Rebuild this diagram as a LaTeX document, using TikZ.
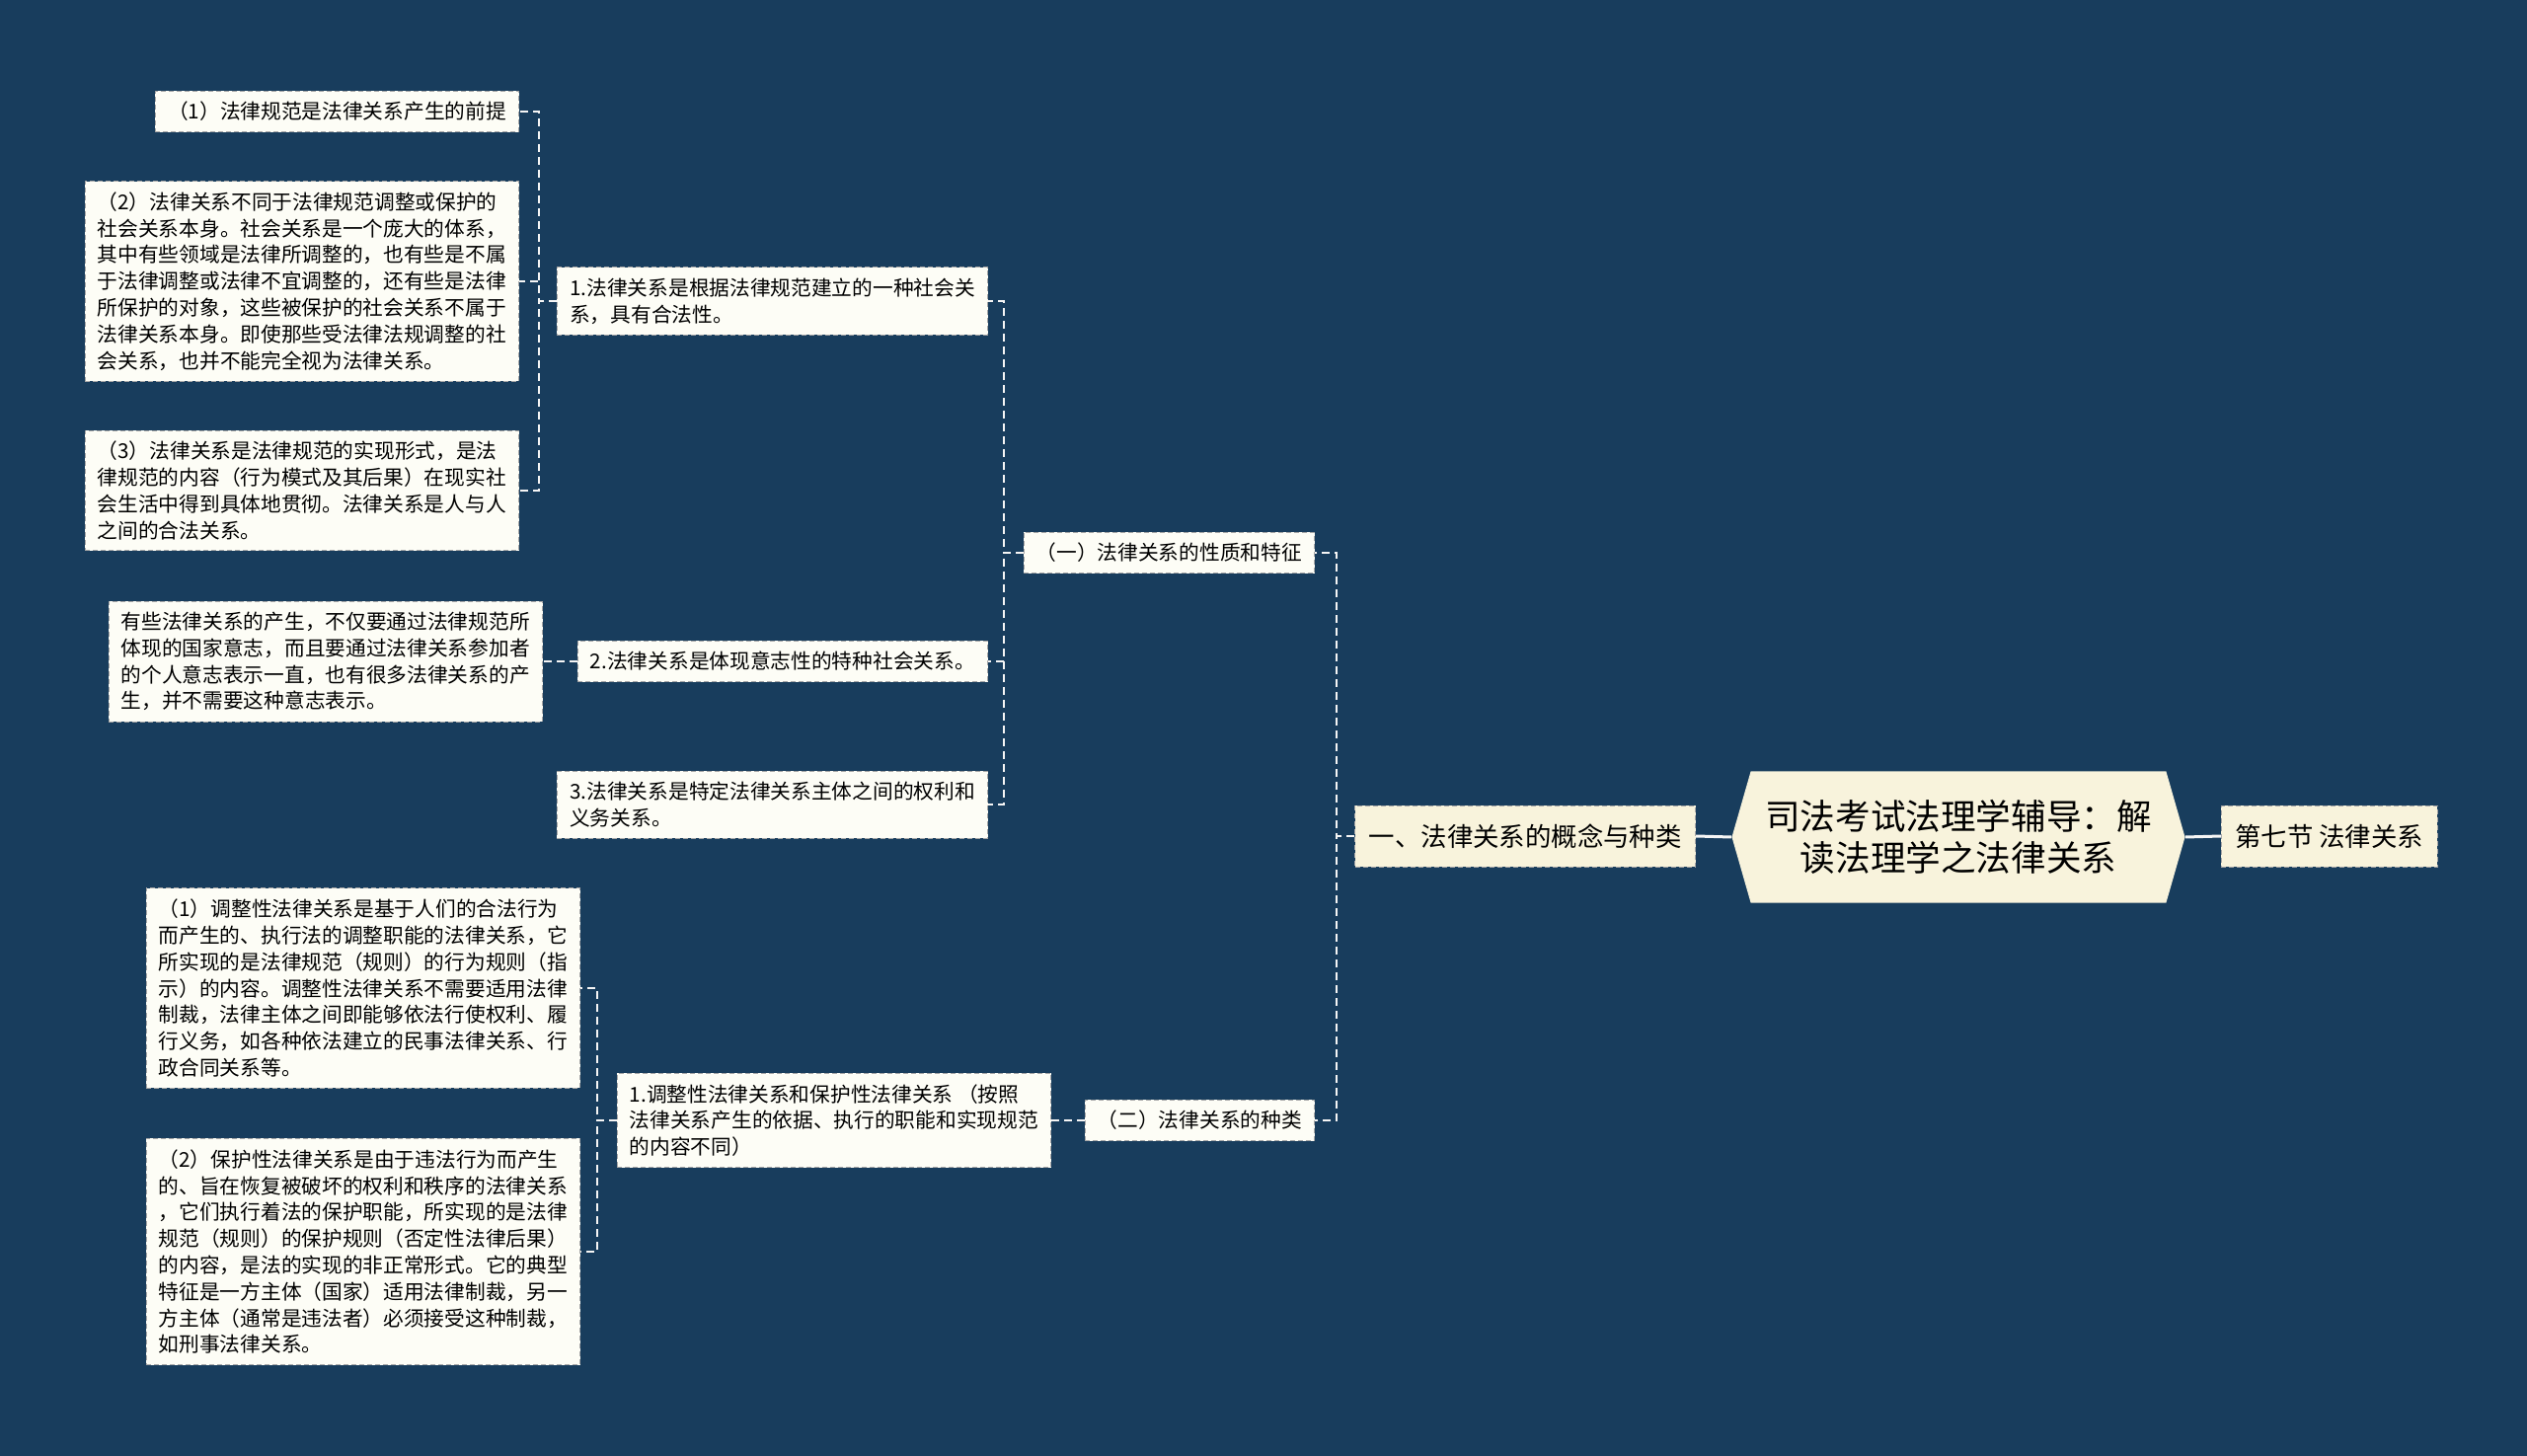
\documentclass[tikz,border=0pt]{standalone}
\usepackage{fontspec}
\newfontfamily\cjk{Noto Sans CJK SC}
\usetikzlibrary{shapes.symbols}
\definecolor{beijing}{HTML}{183D5D}
\definecolor{mi}{HTML}{F8F3DC}
\definecolor{bai}{HTML}{FDFDF6}

\begin{document}
\begin{tikzpicture}[
    x=0.5pt, y=-0.5pt,
    zhu/.style={shape=signal, signal to=west and east, signal pointer angle=148,
                fill=mi, align=center, minimum height=66.5pt, minimum width=229.5pt,
                font=\cjk\fontsize{17.8}{21}\selectfont},
    jie/.style={draw=gray!70, dash pattern=on 2.5pt off 1.5pt, fill=mi,
                inner xsep=7pt, minimum height=31pt,
                font=\cjk\fontsize{13.2}{16}\selectfont},
    ye/.style={draw=gray!70, dash pattern=on 2.5pt off 1.5pt, fill=bai, align=left,
               inner xsep=6.4pt, inner ysep=5.5pt,
               font=\cjk\fontsize{10.35}{13.4}\selectfont},
    lian/.style={draw=white!92!gray, line width=1pt, dash pattern=on 4pt off 2.5pt},
    gan/.style={draw=white!92!gray, line width=1.5pt}
  ]
    \fill[beijing] (0,0) rectangle (2560,1475);
    \useasboundingbox (0,0) rectangle (2560,1475);

    \node[zhu] (gen) at (1984,848) {司法考试法理学辅导：解\\读法理学之法律关系};
    \node[jie, anchor=west] (qi) at (2250,847) {第七节 法律关系};
    \node[jie, anchor=east] (yi) at (1718,847) {一、法律关系的概念与种类};

    % (一) 性质和特征
    \node[ye, anchor=east] (xz) at (1332,560) {（一）法律关系的性质和特征};
    \node[ye, anchor=east] (xz1) at (1001,305)
      {1.法律关系是根据法律规范建立的一种社会关\\系，具有合法性。};
    \node[ye, anchor=east] (xz2) at (1001,670) {2.法律关系是体现意志性的特种社会关系。};
    \node[ye, anchor=east] (xz3) at (1001,815)
      {3.法律关系是特定法律关系主体之间的权利和\\义务关系。};
    \node[ye, anchor=east] (xz1a) at (526,113) {（1）法律规范是法律关系产生的前提};
    \node[ye, anchor=east] (xz1b) at (526,285)
      {（2）法律关系不同于法律规范调整或保护的\\
       社会关系本身。社会关系是一个庞大的体系，\\
       其中有些领域是法律所调整的，也有些是不属\\
       于法律调整或法律不宜调整的，还有些是法律\\
       所保护的对象，这些被保护的社会关系不属于\\
       法律关系本身。即使那些受法律法规调整的社\\
       会关系，也并不能完全视为法律关系。};
    \node[ye, anchor=east] (xz1c) at (526,497)
      {（3）法律关系是法律规范的实现形式，是法\\
       律规范的内容（行为模式及其后果）在现实社\\
       会生活中得到具体地贯彻。法律关系是人与人\\
       之间的合法关系。};
    \node[ye, anchor=east] (xz2a) at (550,670)
      {有些法律关系的产生，不仅要通过法律规范所\\
       体现的国家意志，而且要通过法律关系参加者\\
       的个人意志表示一直，也有很多法律关系的产\\
       生，并不需要这种意志表示。};

    % (二) 种类
    \node[ye, anchor=east] (zl) at (1332,1135) {（二）法律关系的种类};
    \node[ye, anchor=east] (zl1) at (1065,1135)
      {1.调整性法律关系和保护性法律关系 （按照\\
       法律关系产生的依据、执行的职能和实现规范\\
       的内容不同）};
    \node[ye, anchor=east] (zl1a) at (588,1001)
      {（1）调整性法律关系是基于人们的合法行为\\
       而产生的、执行法的调整职能的法律关系，它\\
       所实现的是法律规范（规则）的行为规则（指\\
       示）的内容。调整性法律关系不需要适用法律\\
       制裁，法律主体之间即能够依法行使权利、履\\
       行义务，如各种依法建立的民事法律关系、行\\
       政合同关系等。};
    \node[ye, anchor=east] (zl1b) at (588,1268)
      {（2）保护性法律关系是由于违法行为而产生\\
       的、旨在恢复被破坏的权利和秩序的法律关系\\
       ，它们执行着法的保护职能，所实现的是法律\\
       规范（规则）的保护规则（否定性法律后果）\\
       的内容，是法的实现的非正常形式。它的典型\\
       特征是一方主体（国家）适用法律制裁，另一\\
       方主体（通常是违法者）必须接受这种制裁，\\
       如刑事法律关系。};

    \draw[gan] (gen.east) -- (qi.west);
    \draw[gan] (gen.west) -- (yi.east);
    \draw[lian] (yi.west) -- ++(-9pt,0) |- (xz.east);
    \draw[lian] (yi.west) -- ++(-9pt,0) |- (zl.east);
    \draw[lian] (xz.west) -- ++(-10pt,0) |- (xz1.east);
    \draw[lian] (xz.west) -- ++(-10pt,0) |- (xz2.east);
    \draw[lian] (xz.west) -- ++(-10pt,0) |- (xz3.east);
    \draw[lian] (xz1.west) -- ++(-9pt,0) |- (xz1a.east);
    \draw[lian] (xz1.west) -- ++(-9pt,0) |- (xz1b.east);
    \draw[lian] (xz1.west) -- ++(-9pt,0) |- (xz1c.east);
    \draw[lian] (xz2.west) -- (xz2a.east);
    \draw[lian] (zl.west) -- (zl1.east);
    \draw[lian] (zl1.west) -- ++(-10pt,0) |- (zl1a.east);
    \draw[lian] (zl1.west) -- ++(-10pt,0) |- (zl1b.east);
  \end{tikzpicture}
\end{document}
